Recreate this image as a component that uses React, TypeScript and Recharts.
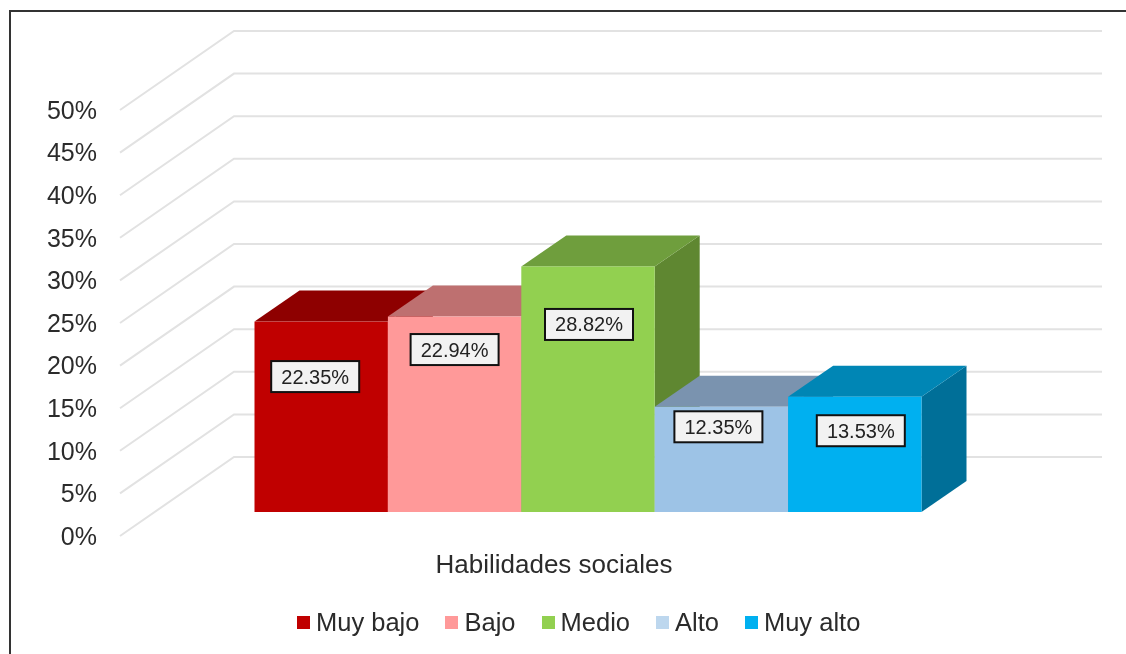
import React from 'react';
import { BarChart, Bar, XAxis, YAxis, CartesianGrid, Legend, LabelList } from 'recharts';

const categories = ['Habilidades sociales'];
const seriesNames = ['Muy bajo', 'Bajo', 'Medio', 'Alto', 'Muy alto'];
const seriesValues = [22.35, 22.94, 28.82, 12.35, 13.53];
const yTicks = [0, 5, 10, 15, 20, 25, 30, 35, 40, 45, 50];

const frontColors = ['#C00000', '#FF9999', '#92D050', '#9DC3E6', '#00B0F0'];
const topColors = ['#8E0000', '#BE7070', '#6F9E3D', '#7A93AF', '#0086B5'];
const sideColors = ['#780000', '#A05F5F', '#5F8731', '#68809A', '#006F98'];
// the legend swatch of "Alto" is lighter than its bar in the original
const legendColors = ['#C00000', '#FF9999', '#92D050', '#BDD7EE', '#00B0F0'];

// the labels were dragged by hand in the original, so each one has its own nudge
const labelNudges = [
  { dx: -6, dy: 55 },
  { dx: 0, dy: 33 },
  { dx: 1, dy: 58 },
  { dx: -3, dy: 20 },
  { dx: 6, dy: 34 },
];

const chartData = categories.map((name) => {
  const row: Record<string, string | number> = { name };
  seriesNames.forEach((s, i) => {
    row[s] = seriesValues[i];
  });
  return row;
});

const FONT = '"Liberation Sans", Arial, sans-serif';
const TEXT = '#2b2b2b';

// front of the bars sits part way into the floor
const BAR_DX = 33.5;
const BAR_DY = -24;
// depth of one bar
const DEPTH_X = 45;
const DEPTH_Y = 31;
// depth of the whole floor, used by the grid
const WALL_DX = 114;
const WALL_DY = 79;

const cubeShape = (i: number) => (props: any) => {
  const x = props.x + BAR_DX;
  const y = props.y + BAR_DY;
  const { width: w, height: h } = props;
  return (
    <g>
      <polygon
        points={`${x + w},${y} ${x + w + DEPTH_X},${y - DEPTH_Y} ${x + w + DEPTH_X},${y + h - DEPTH_Y} ${x + w},${y + h}`}
        fill={sideColors[i]}
      />
      <polygon
        points={`${x},${y} ${x + DEPTH_X},${y - DEPTH_Y} ${x + w + DEPTH_X},${y - DEPTH_Y} ${x + w},${y}`}
        fill={topColors[i]}
      />
      <rect x={x} y={y} width={w} height={h} fill={frontColors[i]} />
    </g>
  );
};

const boxLabel = (i: number) => (props: any) => {
  const cx = props.x + props.width / 2 + BAR_DX + labelNudges[i].dx;
  const cy = props.y + BAR_DY + labelNudges[i].dy;
  return (
    <g>
      <rect x={cx - 44} y={cy - 15.5} width={88} height={31} fill="#F2F2F2" stroke="#111" strokeWidth={2} />
      <text x={cx} y={cy + 7} textAnchor="middle" fontFamily={FONT} fontSize={20} fill="#222">
        {`${Number(props.value).toFixed(2)}%`}
      </text>
    </g>
  );
};

// back wall and left wall lines in one go
const wallLine = (props: any) => {
  const { x1, x2, y1, key } = props;
  return (
    <polyline
      key={key}
      points={`${x1},${y1} ${x1 + WALL_DX},${y1 - WALL_DY} ${x2 + WALL_DX},${y1 - WALL_DY}`}
      fill="none"
      stroke="#E2E2E2"
      strokeWidth={2}
    />
  );
};

const renderLegend = (props: any) => (
  <div style={{ display: 'flex', paddingLeft: 297, fontFamily: FONT, fontSize: 25.5, color: TEXT }}>
    {props.payload.map((entry: any, i: number) => (
      <div key={entry.value} style={{ display: 'flex', alignItems: 'center', marginRight: 26 }}>
        <span style={{ width: 13, height: 13, marginRight: 6, background: legendColors[i], display: 'inline-block' }} />
        <span>{entry.value}</span>
      </div>
    ))}
  </div>
);

const App: React.FC = () => (
  <div style={{ position: 'absolute', left: 0, top: 0, width: 1126, height: 654, overflow: 'hidden', background: '#fff' }}>
    <div
      style={{
        position: 'absolute',
        left: 9,
        top: 10,
        right: 0,
        bottom: 0,
        borderTop: '2.5px solid #333',
        borderLeft: '2.5px solid #333',
      }}
    />
    <div style={{ position: 'absolute', left: 0, top: 0, filter: 'blur(0.7px)' }}>
      <BarChart
        width={1126}
        height={654}
        data={chartData}
        margin={{ top: 110, right: 138, bottom: 18, left: 20 }}
        barSize={133.4}
        barGap={0}
      >
        <CartesianGrid vertical={false} horizontal={wallLine} />
        <XAxis
          dataKey="name"
          height={50}
          axisLine={false}
          tickLine={false}
          tickSize={0}
          tickMargin={19}
          tick={{ fontFamily: FONT, fontSize: 26, fill: TEXT }}
        />
        <YAxis
          width={100}
          domain={[0, 50]}
          ticks={yTicks}
          interval={0}
          axisLine={false}
          tickLine={false}
          tickSize={0}
          tickMargin={23}
          tickFormatter={(v) => `${v}%`}
          tick={{ fontFamily: FONT, fontSize: 25, fill: TEXT }}
        />
        <Legend
          height={50}
          verticalAlign="bottom"
          itemSorter={null}
          content={renderLegend}
          wrapperStyle={{ left: 0, width: 1126, top: 608 }}
        />
        {seriesNames.map((s, i) => (
          <Bar key={s} dataKey={s} fill={frontColors[i]} shape={cubeShape(i)} isAnimationActive={false}>
            <LabelList dataKey={s} content={boxLabel(i)} />
          </Bar>
        ))}
      </BarChart>
    </div>
  </div>
);

export default App;
